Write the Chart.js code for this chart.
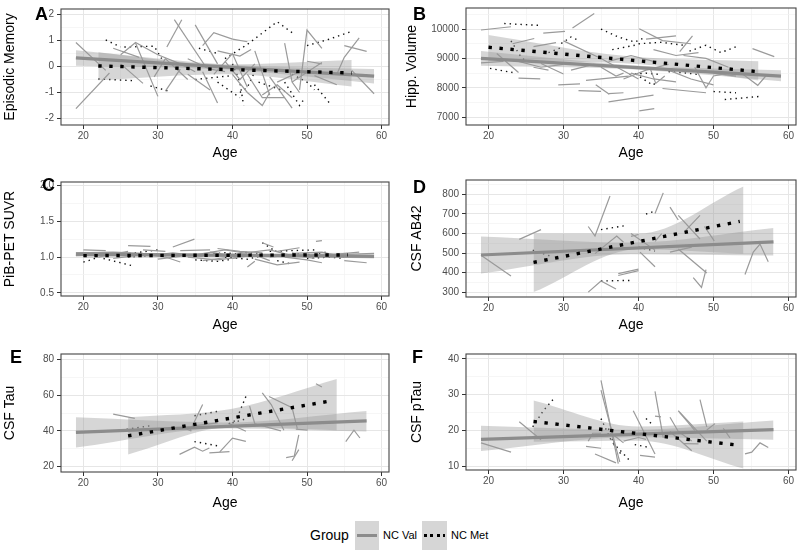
<!DOCTYPE html>
<html>
<head>
<meta charset="utf-8">
<script src="https://cdn.jsdelivr.net/npm/chart.js@4.4.1/dist/chart.umd.min.js"></script>
<style>
  body { margin: 0; background: #fff; width: 800px; height: 551px; position: relative; overflow: hidden;
         font-family: "Liberation Sans", Arial, sans-serif; }
  canvas { position: absolute; }
  .tag { position: absolute; font-weight: bold; font-size: 18px; line-height: 18px; color: #000; }
  .lg { position: absolute; color: #000; }
  .key { position: absolute; background: #d6d6d6; }
</style>
</head>
<body>

<script>
// ---- data ----
const ageTicks = [20, 30, 40, 50, 60];
const ageMinor = [25, 35, 45, 55];

// A: Episodic Memory
const ticksA = [-2, -1, 0, 1, 2];
const minorA = [-1.5, -0.5, 0.5, 1.5];
const valSegsA = [
  [[19,0.92],[23,-0.15]], [[19,-1.62],[23.5,-0.25]], [[24,0.7],[27.5,0.35]],
  [[25,0.45],[27,0.92],[30,0.45]], [[27,0.9],[30,-1.15]], [[25,0.1],[28,-0.65]],
  [[30,0.45],[33,0.1],[35,-0.2]], [[31,-0.95],[33,-0.1]], [[31.2,0.75],[33.2,1.8]],
  [[32.2,1.8],[36.5,-0.05]], [[35,1.6],[38,0.1]], [[36,0.8],[37.5,1.3],[40,1.05]],
  [[38,0.6],[41,0.4],[42.5,0.65]], [[36,-0.2],[38,-1.4]], [[34,-0.3],[37,-0.9]],
  [[37.5,-0.3],[40,0.5],[42,-0.8]], [[40,1.05],[42,0.95]], [[40,-0.3],[42,-1.0],[44,-1.5],[45,-1.0]],
  [[42,-0.3],[44,-1.2],[47,-1.2]], [[43,0.6],[45,-1.1]], [[44,-1.1],[46,-0.7],[48,-1.2]],
  [[45,-0.4],[48,-1.6]], [[47,0.9],[48,-0.6],[49,-1.0]], [[49,-0.9],[50,1.4],[52,0.7]],
  [[50,0.2],[52,0.1]], [[48,-0.6],[52,0.15]], [[51,-0.35],[54,-0.7]],
  [[54,-0.3],[55,0.35],[57,1.1]], [[55,0.8],[58,0.58]], [[56,-0.15],[59,-1.05]],
  [[34,0.3],[37,-0.1],[39,-0.2]], [[29.5,-0.4],[31,0.3],[34,-0.5]], [[39,0.2],[41,-0.5],[43,0.1]],
  [[46,-0.6],[49,-0.2]]
];
const metSegsA = [
  [[23,1.02],[25,0.75]], [[22,-0.48],[27,-0.55]], [[25.5,0.75],[29.5,0.78],[30.5,0.3]],
  [[29,-0.75],[31.5,-0.95]], [[35.5,0.7],[38,0.5]], [[35,-0.5],[40,-0.35]],
  [[39,0.3],[42,0.85],[46,1.72],[48,1.3]], [[40,0.1],[41,-0.6],[41.5,-1.5]],
  [[41,-1.0],[42,-0.8],[43,-0.2]], [[47,-0.6],[49,-1.5],[49.5,-1.3]], [[48,-0.3],[50,-0.6],[51,-0.9]],
  [[50,0.8],[53,1.05],[56,1.35]], [[51,-0.7],[53,-1.4]], [[43.5,-0.6],[47,-0.95]],
  [[38,-0.6],[40,-1.0],[41,-1.2]]
];
const valFitA = [[19, 0.33], [59, -0.37]];
const metFitA = [[22, 0.02], [56, -0.25]];
const valBandA = [[19, 0.03, 0.62], [39, -0.12, 0.08], [59, -0.65, -0.1]];
const metBandA = [[22, -0.53, 0.55], [39, -0.3, 0.08], [56, -0.77, 0.25]];

// B: Hipp. Volume
const ticksB = [7000, 8000, 9000, 10000];
const minorB = [7500, 8500, 9500, 10500];
const valSegsB = [
  [[19,9970],[23,10080]], [[23.2,9500],[26.1,9680]], [[26,9400],[29,9540]], [[27.3,9860],[30.2,9925]],
  [[31.2,10040],[34.1,10530]], [[21.1,9170],[24,8520]], [[24,8330],[26.9,8300]], [[29.3,8100],[32.2,8130]],
  [[30,9600],[35,9000],[40,8300]], [[27,8830],[30,8470]], [[32,7900],[35,7880]], [[36,7800],[38,7830]],
  [[33,8250],[38.7,8400]], [[34.3,8100],[36.1,7780]], [[36,7520],[42,7750]], [[40.1,7210],[42.1,7290]],
  [[43.2,7975],[49,7830]], [[40.1,10010],[43.2,9608],[47,9500]], [[41,9660],[45,9770]],
  [[45.5,9230],[47.2,9770]], [[55.2,9335],[58.1,9063]], [[53.9,8465],[55.9,8083],[57,8410]],
  [[41.5,8700],[42.3,8150],[43.5,8400]], [[47.5,8700],[49,8000],[50,8400],[52,8500]],
  [[24,8900],[27,8700],[30,8800]], [[31,8600],[34,8800],[36,8750]], [[35,8700],[37,8400],[38,8500]],
  [[38,8300],[41,8600],[44,8800]], [[44,8600],[47,8300],[50,8100]], [[19,8850],[22,8900]],
  [[46,9100],[49,9000],[52,8700]], [[42,9300],[45,9100],[48,9200]], [[36,8900],[39,9100],[42,8900]],
  [[50,8500],[53,8400]], [[26,8700],[28,8600]], [[39,8500],[42,8300],[45,8200]]
];
const metSegsB = [
  [[22.1,10190],[26.6,10130]], [[20.2,8660],[23.2,8520]], [[35,10000],[37.3,9730],[39.5,9560],[41,9730]],
  [[36.5,9300],[39.5,9450]], [[39.6,8470],[41.9,8090],[42.5,8200]], [[40,9500],[43,9550],[46,9450]],
  [[46.8,9250],[49,9450],[51,9200],[53,9400]], [[50,7870],[53,7830]], [[51.5,7600],[56,7700]],
  [[29.7,9510],[31,9730],[32,9620]], [[23,9600],[24.3,9060],[25,8900]], [[38.8,8450],[41,8500],[43,8450]],
  [[44,8550],[46.5,8500],[48,8450]], [[28,9200],[30,9400]]
];
const valFitB = [[19, 9000], [59, 8400]];
const metFitB = [[20, 9380], [55.5, 8560]];
const valBandB = [[19, 8750, 9250], [39, 8630, 8770], [59, 8220, 8600]];
const metBandB = [[20, 8900, 9800], [38, 8840, 9090], [56, 8250, 8900]];

// C: PiB-PET SUVR
const ticksC = [0.5, 1.0, 1.5, 2.0];
const minorC = [0.75, 1.25, 1.75];
const valSegsC = [
  [[19,1.06],[24,1.07],[28,1.05]], [[19,1.02],[23,1.03]], [[20,1.1],[23,1.09]], [[22,1.0],[26,1.08]],
  [[26,1.16],[29,1.15]], [[27,1.05],[31,1.0],[33,0.93]], [[32,1.14],[34.9,1.25]], [[29,1.02],[32,1.06],[36,1.01]],
  [[33,1.09],[37,1.1]], [[34,1.0],[38,0.96],[41,1.0]], [[35,1.03],[39,1.1],[42,1.05]], [[37,1.07],[40,1.02]],
  [[38,1.12],[41,1.08],[44,1.06]], [[40,0.98],[43,1.03],[45,0.95]], [[42,0.86],[43,0.94]],
  [[41,1.05],[45,1.1],[48,1.02]], [[43,0.97],[46,0.89],[49,0.93]], [[44,1.2],[45.5,1.14]],
  [[46,1.08],[49,1.13]], [[47,1.0],[50,0.96],[52,0.92]], [[48,1.05],[52,1.07],[55,1.0]],
  [[51.2,1.22],[52,1.23]], [[50,1.02],[54,1.04],[57,1.07]], [[55,0.95],[58,0.92]], [[53,1.03],[59,1.05]],
  [[30,0.97],[33,1.01]], [[36,0.95],[39,0.99]], [[24,0.98],[27,1.02]], [[45,1.0],[48,1.03],[51,0.98]],
  [[28,1.1],[31,1.08]]
];
const metSegsC = [
  [[20,0.93],[21,0.96],[22,1.0]], [[22.7,0.98],[26.5,0.88]], [[24,1.03],[27,1.06],[30,1.1]],
  [[26,1.0],[29,1.02],[32,1.04]], [[35,0.96],[38,0.94],[40,0.97]], [[36,1.03],[39,1.06],[42,1.03]],
  [[39,1.0],[42,0.97],[44,1.02]], [[44,1.2],[45.5,1.1]], [[45,1.08],[48,1.09],[51,1.1]],
  [[46,0.95],[48,0.9]], [[48,1.05],[51,1.03],[53,1.08]], [[50,0.98],[53,1.0],[55,0.98]],
  [[29,1.04],[33,1.02]], [[41,1.07],[44,1.05]]
];
const valFitC = [[19, 1.04], [59, 1.01]];
const metFitC = [[20, 1.02], [55.5, 1.03]];
const valBandC = [[19, 1.01, 1.07], [39, 1.01, 1.04], [59, 0.98, 1.04]];
const metBandC = [[20, 0.99, 1.05], [38, 1.0, 1.05], [55.5, 1.0, 1.06]];

// D: CSF AB42
const ticksD = [300, 400, 500, 600, 700, 800];
const minorD = [350, 450, 550, 650, 750, 850];
const valSegsD = [
  [[19,489],[23,382]], [[24.1,570],[27,620]], [[33.3,636],[34.2,587],[36.2,792]],
  [[33.3,300],[35,357],[37,316]], [[34.2,497],[37.1,587],[38,555]], [[37.3,385],[40,410]],
  [[37.3,395],[40,418]], [[39,585],[40,595]], [[40.2,505],[42.2,430]], [[39,600],[42.2,515]],
  [[42.2,702],[43.3,808]], [[42.2,560],[43.1,600]], [[44.2,735],[45.3,669]], [[45.3,693],[48.2,572]],
  [[46.2,612],[48.2,693]], [[44.2,505],[47.1,530]], [[45.3,521],[49.1,398]],
  [[47.3,374],[48.4,324],[49,415]], [[48.8,636],[50.1,562]], [[54.2,390],[55.3,505],[56.2,546],[57.3,456]]
];
const metSegsD = [
  [[25.9,515],[27.9,489],[28.6,480]], [[35,620],[38.2,640]], [[35,357],[39,360]],
  [[41,700],[42.2,715]], [[40,530],[42.2,510]]
];
const valFitD = [[19, 490], [58, 557]];
const metFitD = [[26, 452], [53.5, 662]];
const valBandD = [[19, 395, 585], [39, 494, 554], [58, 487, 628]];
const metBandD = [[26, 300, 600], [40, 520, 600], [54, 497, 841]];

// E: CSF Tau
const ticksE = [20, 40, 60, 80];
const minorE = [30, 50, 70];
const valSegsE = [
  [[24,49.4],[26.9,47]], [[32.9,26.8],[34.9,30.8],[36,28.6],[36.9,30.4]], [[34.3,40],[36,54.8]],
  [[36.9,27.7],[39.6,28.4]], [[38.3,28.2],[40,35.9],[41.8,34.1]], [[39.6,44],[41.8,39.8]],
  [[42.3,53.9],[43,44]], [[44,61.4],[45.2,54.8],[46.9,40.4]], [[44.9,59.3],[48,53],[48.7,41.3]],
  [[47.2,25],[48.3,25.9],[48.9,37.7]], [[48,23.2],[48.9,29.5]], [[51.2,66.5],[52,64.7]],
  [[55.2,34],[56.3,40.4],[57.1,36]], [[43,44],[46.5,40]], [[35,43],[38,44.5]], [[48.5,41],[50.1,40.4]],
  [[33.5,41.5],[34.5,40]]
];
const metSegsE = [
  [[25.8,40.9],[29.2,43]], [[34.9,48.5],[38.3,51.2]], [[34.9,34],[38.3,31.4]],
  [[39.5,44],[40.5,46],[41.8,59.3]], [[40,44.5],[42,47]]
];
const valFitE = [[19, 39.2], [58, 45.6]];
const metFitE = [[26, 37.2], [53, 56.7]];
const valBandE = [[19, 30.6, 47.6], [39, 41.3, 44.7], [58, 39.6, 51.2]];
const metBandE = [[26, 26.8, 47.6], [40, 42.2, 52.5], [54, 40.4, 69.2]];

// F: CSF pTau
const ticksF = [10, 20, 30, 40];
const minorF = [15, 25, 35];
const valSegsF = [
  [[19,16.5],[23,13.9]], [[24.1,22.4],[27,17.4]], [[33.3,17],[33.9,19.2],[35,19.2]],
  [[35,34],[37.3,10.7]], [[35,31.3],[37.5,11.2]], [[34.2,13.4],[37,10.9]], [[39.3,25.5],[42.2,13.4]],
  [[40.2,13],[42.2,12.5]], [[42.2,30.9],[43.3,17.9]], [[42.2,24],[43,23.8]],
  [[44.2,23.7],[45.3,19.7],[47.1,17]], [[45.3,25.5],[49.1,17]], [[45.5,25],[47.5,20]],
  [[48.2,28.6],[49.1,21]], [[49.1,20.1],[50.2,21.9]], [[51.3,20.6],[52.2,17.9]],
  [[54.2,13.4],[55.1,13.9],[56.2,16.5],[57.3,15.2]], [[46,16.3],[48,16.2]], [[44.2,19.7],[47.1,14.3]],
  [[36.5,19],[38,16.5]], [[38,17],[40,18],[41,17.5]], [[33,15.5],[35,15]]
];
const metSegsF = [
  [[25.9,21],[27.3,25.5],[28.8,29.1]], [[35,23.3],[36.4,17],[38.8,11.6]], [[41,23.3],[41.7,21.9]],
  [[39.5,16],[41.5,15.2]], [[36,20.5],[37,14.5],[38,13]]
];
const valFitF = [[19, 17.5], [58, 20.2]];
const metFitF = [[26, 22.5], [53.5, 15.8]];
const valBandF = [[19, 14.2, 21.3], [39, 18.1, 20.2], [58, 17.4, 22.8]];
const metBandF = [[26, 16.8, 28.4], [40, 17.1, 21.1], [54, 9.3, 22.5]];

// ---- styling / layout ----
const FONT = '"Liberation Sans", Arial, sans-serif';
const BAND = 'rgba(153,153,153,0.4)';
const VAL_COL = '#9a9a9a';
const FIT_COL = '#8c8c8c';

const panels = [
  { id: 'A', title: 'Episodic Memory', col: 0,   l: 61,  r: 389, t: 4,   b: 125, ageY: 153, ytx: 10,
    ymin: -2.25, ymax: 2.21, major: ticksA, minor: minorA, fmt: v => String(v),
    val: valSegsA, met: metSegsA, vFit: valFitA, mFit: metFitA, vBand: valBandA, mBand: metBandA },
  { id: 'B', title: 'Hipp. Volume', col: 400, l: 466, r: 796, t: 3,   b: 125, ageY: 153, ytx: 412,
    ymin: 6730, ymax: 10720, major: ticksB, minor: minorB, fmt: v => String(v),
    val: valSegsB, met: metSegsB, vFit: valFitB, mFit: metFitB, vBand: valBandB, mBand: metBandB },
  { id: 'C', title: 'PiB-PET SUVR', col: 0,   l: 61,  r: 389, t: 177, b: 296, ageY: 325, ytx: 10,
    ymin: 0.455, ymax: 2.05, major: ticksC, minor: minorC, fmt: v => v.toFixed(1),
    val: valSegsC, met: metSegsC, vFit: valFitC, mFit: metFitC, vBand: valBandC, mBand: metBandC },
  { id: 'D', title: 'CSF AB42', col: 400, l: 466, r: 796, t: 175, b: 297, ageY: 325, ytx: 417,
    ymin: 275, ymax: 874, major: ticksD, minor: minorD, fmt: v => String(v),
    val: valSegsD, met: metSegsD, vFit: valFitD, mFit: metFitD, vBand: valBandD, mBand: metBandD },
  { id: 'E', title: 'CSF Tau', col: 0,   l: 61,  r: 389, t: 349, b: 472, ageY: 503, ytx: 10,
    ymin: 16.9, ymax: 83.2, major: ticksE, minor: minorE, fmt: v => String(v),
    val: valSegsE, met: metSegsE, vFit: valFitE, mFit: metFitE, vBand: valBandE, mBand: metBandE },
  { id: 'F', title: 'CSF pTau', col: 400, l: 466, r: 796, t: 349, b: 470, ageY: 503, ytx: 417,
    ymin: 8.9, ymax: 41.4, major: ticksF, minor: minorF, fmt: v => String(v),
    val: valSegsF, met: metSegsF, vFit: valFitF, mFit: metFitF, vBand: valBandF, mBand: metBandF }
];

const tagPos = { A: [35, 4.7], B: [413, 4.7], C: [42, 175.7], D: [413, 177.7], E: [10, 347.7], F: [412, 347.7] };

function pts(arr) { return arr.map(p => ({ x: p[0], y: p[1] })); }

function buildDatasets(p) {
  const ds = [];
  ds.push({ data: pts(p.mFit), borderColor: '#000', borderWidth: 3.4, borderDash: [3.4, 7.6], order: 0 });
  ds.push({ data: pts(p.vFit), borderColor: FIT_COL, borderWidth: 3.2, order: 1 });
  [p.vBand, p.mBand].forEach(band => {
    ds.push({ data: band.map(r => ({ x: r[0], y: r[1] })), borderColor: 'rgba(0,0,0,0)', fill: false,
              cubicInterpolationMode: 'monotone', order: 2 });
    ds.push({ data: band.map(r => ({ x: r[0], y: r[2] })), borderColor: 'rgba(0,0,0,0)', fill: '-1',
              backgroundColor: BAND, cubicInterpolationMode: 'monotone', order: 2 });
  });
  p.val.forEach(s => ds.push({ data: pts(s), borderColor: VAL_COL, borderWidth: 1.2, order: 3 }));
  p.met.forEach(s => ds.push({ data: pts(s), borderColor: '#111', borderWidth: 1.4, borderDash: [1.4, 4], order: 3 }));
  return ds;
}

function gridOpts(major) {
  const isMajor = c => c.tick && major.includes(c.tick.value);
  return {
    color: c => isMajor(c) ? '#e6e6e6' : '#f2f2f2',
    lineWidth: c => isMajor(c) ? 1 : 0.7,
    tickColor: c => isMajor(c) ? '#333' : 'rgba(0,0,0,0)',
    tickWidth: 1,
    tickLength: 4,
    drawTicks: true
  };
}

// panel frame
const framePlugin = {
  id: 'frame',
  afterDatasetsDraw(chart) {
    const a = chart.chartArea, ctx = chart.ctx;
    ctx.save();
    ctx.strokeStyle = '#444';
    ctx.lineWidth = 1.1;
    ctx.strokeRect(a.left, a.top, a.right - a.left, a.bottom - a.top);
    ctx.restore();
  }
};

panels.forEach(p => {
  const top = p.t - 4;
  const h = p.ageY + 10 - top;
  const cv = document.createElement('canvas');
  cv.width = 400; cv.height = h;
  cv.style.left = p.col + 'px'; cv.style.top = top + 'px';
  document.body.appendChild(cv);

  const yAll = p.major.concat(p.minor).sort((a, b) => a - b);
  const xAll = ageTicks.concat(ageMinor).sort((a, b) => a - b);

  new Chart(cv, {
    type: 'line',
    data: { datasets: buildDatasets(p) },
    options: {
      responsive: false,
      animation: false,
      events: [],
      layout: { padding: { top: 4, right: p.col + 400 - p.r, bottom: 1.6, left: 0 } },
      elements: { point: { radius: 0 }, line: { tension: 0, borderCapStyle: 'butt' } },
      plugins: { legend: { display: false }, tooltip: { enabled: false } },
      scales: {
        x: {
          type: 'linear', min: 17, max: 61,
          afterBuildTicks: s => { s.ticks = xAll.map(v => ({ value: v })); },
          afterFit: s => { s.height = p.ageY + 8.4 - p.b; },
          ticks: { autoSkip: false, maxRotation: 0, padding: 1, color: '#4d4d4d',
                   font: { size: 10, family: FONT },
                   callback: v => ageTicks.includes(v) ? String(v) : '' },
          grid: gridOpts(ageTicks),
          border: { display: false },
          title: { display: true, text: 'Age', color: '#000', font: { size: 14, family: FONT }, padding: 0 }
        },
        y: {
          type: 'linear', min: p.ymin, max: p.ymax,
          afterBuildTicks: s => { s.ticks = yAll.map(v => ({ value: v })); },
          afterFit: s => { s.width = p.l - p.col; },
          ticks: { autoSkip: false, padding: 3, color: '#4d4d4d',
                   font: { size: 10, family: FONT },
                   callback: v => p.major.includes(v) ? p.fmt(v) : '' },
          grid: gridOpts(p.major),
          border: { display: false },
          title: { display: true, text: p.title, color: '#000', font: { size: 14, family: FONT },
                   padding: { top: p.ytx - p.col - 8.4, bottom: 0 } }
        }
      }
    },
    plugins: [framePlugin]
  });

  const tag = document.createElement('div');
  tag.className = 'tag';
  tag.textContent = p.id;
  tag.style.left = tagPos[p.id][0] + 'px';
  tag.style.top = tagPos[p.id][1] + 'px';
  document.body.appendChild(tag);
});
</script>

<!-- legend -->
<div class="lg" style="left:310px;top:527px;font-size:14px;line-height:16px;">Group</div>
<div class="key" style="left:355px;top:521px;width:24px;height:29px;"></div>
<div style="position:absolute;left:357px;top:534px;width:20px;height:2.6px;background:#8c8c8c;"></div>
<div class="lg" style="left:383px;top:529px;font-size:11px;line-height:13px;">NC Val</div>
<div class="key" style="left:422px;top:521px;width:25px;height:29px;"></div>
<div style="position:absolute;left:424px;top:534px;width:21px;height:2.6px;
            background:repeating-linear-gradient(to right,#000 0 2.6px,transparent 2.6px 6.5px);"></div>
<div class="lg" style="left:451px;top:529px;font-size:11px;line-height:13px;">NC Met</div>

</body>
</html>
